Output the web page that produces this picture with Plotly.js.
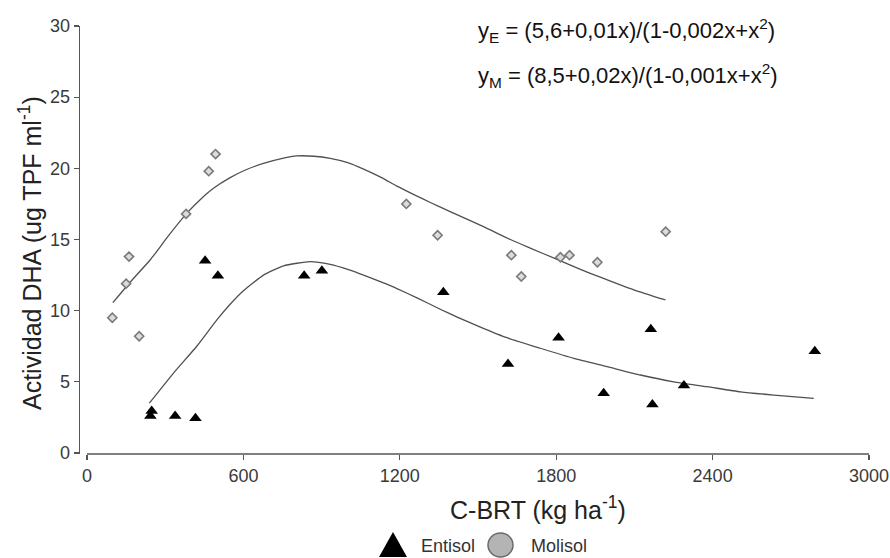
<!DOCTYPE html>
<html>
<head>
<meta charset="utf-8">
<script src="https://cdn.plot.ly/plotly-3.0.1.min.js"></script>
<style>
  html, body { margin: 0; padding: 0; background: #fff; }
  #chart { width: 890px; height: 558px; }
</style>
</head>
<body>
<div id="chart"></div>
<script>
// ---- Data ----
var entisolX = [243, 248, 338, 416, 453, 502, 833, 901, 1367, 1615, 1809, 1982, 2163, 2169, 2290, 2792];
var entisolY = [2.6, 2.95, 2.6, 2.45, 13.5, 12.45, 12.45, 12.8, 11.3, 6.25, 8.1, 4.2, 8.7, 3.4, 4.75, 7.15];

var molisolX = [97, 150, 161, 200, 380, 467, 493, 1225, 1345, 1628, 1666, 1816, 1851, 1958, 2220];
var molisolY = [9.5, 11.9, 13.8, 8.2, 16.8, 19.8, 21.0, 17.5, 15.3, 13.9, 12.4, 13.75, 13.9, 13.4, 15.55];

// fitted curves
var fitEX = [239, 331, 421, 498, 549, 600, 677, 754, 856, 933, 1000, 1061, 1130, 1189, 1266, 1355, 1420, 1509, 1611, 1739, 1867, 1995, 2123, 2251, 2379, 2507, 2635, 2788];
var fitEY = [3.5, 5.6, 7.5, 9.35, 10.45, 11.4, 12.5, 13.15, 13.45, 13.25, 12.9, 12.5, 12.0, 11.55, 10.9, 10.1, 9.55, 8.85, 8.1, 7.36, 6.65, 6.07, 5.48, 5.0, 4.66, 4.3, 4.07, 3.84];

var fitMX = [99, 165, 242, 312, 383, 440, 485, 549, 610, 677, 750, 805, 870, 933, 1000, 1061, 1130, 1189, 1260, 1317, 1393, 1521, 1624, 1700, 1803, 1893, 1969, 2033, 2100, 2219];
var fitMY = [10.56, 12.0, 13.56, 15.25, 16.85, 17.9, 18.6, 19.35, 19.9, 20.35, 20.7, 20.87, 20.85, 20.7, 20.4, 19.95, 19.35, 18.75, 18.1, 17.6, 16.96, 15.9, 15.0, 14.4, 13.6, 12.9, 12.35, 11.9, 11.45, 10.75];

var xTicks = [0, 600, 1200, 1800, 2400, 3000];
var yTicks = [0, 5, 10, 15, 20, 25, 30];

var seriesNames = ['Entisol', 'Molisol'];
var eqE = 'y<sub>E</sub> = (5,6+0,01x)/(1-0,002x+x<sup>2</sup>)';
var eqM = 'y<sub>M</sub> = (8,5+0,02x)/(1-0,001x+x<sup>2</sup>)';
var xTitle = 'C-BRT (kg ha<sup>-1</sup>)';
var yTitle = 'Actividad DHA (ug TPF ml<sup>-1</sup>)';

// ---- layout geometry (pixels) ----
var W = 890, H = 558;
var plotL = 80, plotR = 869, plotT = 26, plotB = 454;
function px(xp) { return (xp - plotL) / (plotR - plotL); }
function py(yp) { return (plotB - yp) / (plotB - plotT); }

var FONT = '"Liberation Sans", Arial, Helvetica, sans-serif';
var lineCol = '#555555';

var traces = [
  {
    x: fitMX, y: fitMY, mode: 'lines', type: 'scatter', showlegend: false,
    line: { color: '#505050', width: 1.3, shape: 'spline', smoothing: 0.5 }, hoverinfo: 'skip'
  },
  {
    x: fitEX, y: fitEY, mode: 'lines', type: 'scatter', showlegend: false,
    line: { color: '#505050', width: 1.3, shape: 'spline', smoothing: 0.5 }, hoverinfo: 'skip'
  },
  {
    x: molisolX, y: molisolY, mode: 'markers', type: 'scatter', name: seriesNames[1], showlegend: false,
    marker: { symbol: 'diamond', size: 7, color: '#dcdcdc', line: { color: '#7a7a7a', width: 1.6 } }
  },
  {
    x: entisolX, y: entisolY, mode: 'markers', type: 'scatter', name: seriesNames[0], showlegend: false,
    marker: { symbol: 'triangle-up', size: 11, color: '#000000', line: { width: 0 } }
  }
];

var layout = {
  width: W, height: H,
  margin: { l: plotL, r: W - plotR, t: plotT, b: H - plotB, pad: 0 },
  paper_bgcolor: '#ffffff', plot_bgcolor: '#ffffff',
  font: { family: FONT, size: 18, color: '#3a3a3a' },
  showlegend: false,
  xaxis: {
    range: [-27, 3000], tickvals: xTicks, ticktext: xTicks.map(String),
    showline: false, showgrid: false, zeroline: false,
    ticks: 'outside', ticklen: 5, tickwidth: 1.3, tickcolor: lineCol,
    tickfont: { family: FONT, size: 18, color: '#3a3a3a' }
  },
  yaxis: {
    range: [-0.07, 30], tickvals: yTicks, ticktext: yTicks.map(String),
    showline: true, linecolor: lineCol, linewidth: 1.3,
    showgrid: false, zeroline: false,
    ticks: 'outside', ticklen: 5, tickwidth: 1.3, tickcolor: lineCol,
    tickfont: { family: FONT, size: 18, color: '#3a3a3a' }
  },
  shapes: [
    // x-axis line spanning 0..3000
    { type: 'line', xref: 'x', yref: 'paper', x0: 0, x1: 3000, y0: 0, y1: 0,
      line: { color: lineCol, width: 1.3 } },
    // legend symbols
    { type: 'path', xref: 'paper', yref: 'paper',
      path: 'M ' + px(393) + ' ' + py(532) + ' L ' + px(407) + ' ' + py(557) + ' L ' + px(379) + ' ' + py(557) + ' Z',
      fillcolor: '#000000', line: { width: 0 } },
    { type: 'circle', xref: 'paper', yref: 'paper',
      x0: px(488), x1: px(513), y0: py(557), y1: py(533),
      fillcolor: '#b4b4b4', line: { color: '#6a6a6a', width: 1.5 } }
  ],
  annotations: [
    { text: eqE, xref: 'paper', yref: 'paper', x: px(476), y: py(30), xanchor: 'left', yanchor: 'middle',
      showarrow: false, font: { family: FONT, size: 22, color: '#111111' } },
    { text: eqM, xref: 'paper', yref: 'paper', x: px(476), y: py(76), xanchor: 'left', yanchor: 'middle',
      showarrow: false, font: { family: FONT, size: 22, color: '#111111' } },
    { text: xTitle, xref: 'paper', yref: 'paper', x: px(538), y: py(508), xanchor: 'center', yanchor: 'middle',
      showarrow: false, font: { family: FONT, size: 25, color: '#222222' } },
    { text: yTitle, xref: 'paper', yref: 'paper', x: px(30), y: py(253), xanchor: 'center', yanchor: 'middle',
      textangle: -90, showarrow: false, font: { family: FONT, size: 25, color: '#222222' } },
    { text: seriesNames[0], xref: 'paper', yref: 'paper', x: px(419), y: py(546), xanchor: 'left', yanchor: 'middle',
      showarrow: false, font: { family: FONT, size: 18, color: '#333333' } },
    { text: seriesNames[1], xref: 'paper', yref: 'paper', x: px(529), y: py(546), xanchor: 'left', yanchor: 'middle',
      showarrow: false, font: { family: FONT, size: 18, color: '#333333' } }
  ]
};

Plotly.newPlot('chart', traces, layout, { displayModeBar: false, staticPlot: true });
</script>
</body>
</html>
